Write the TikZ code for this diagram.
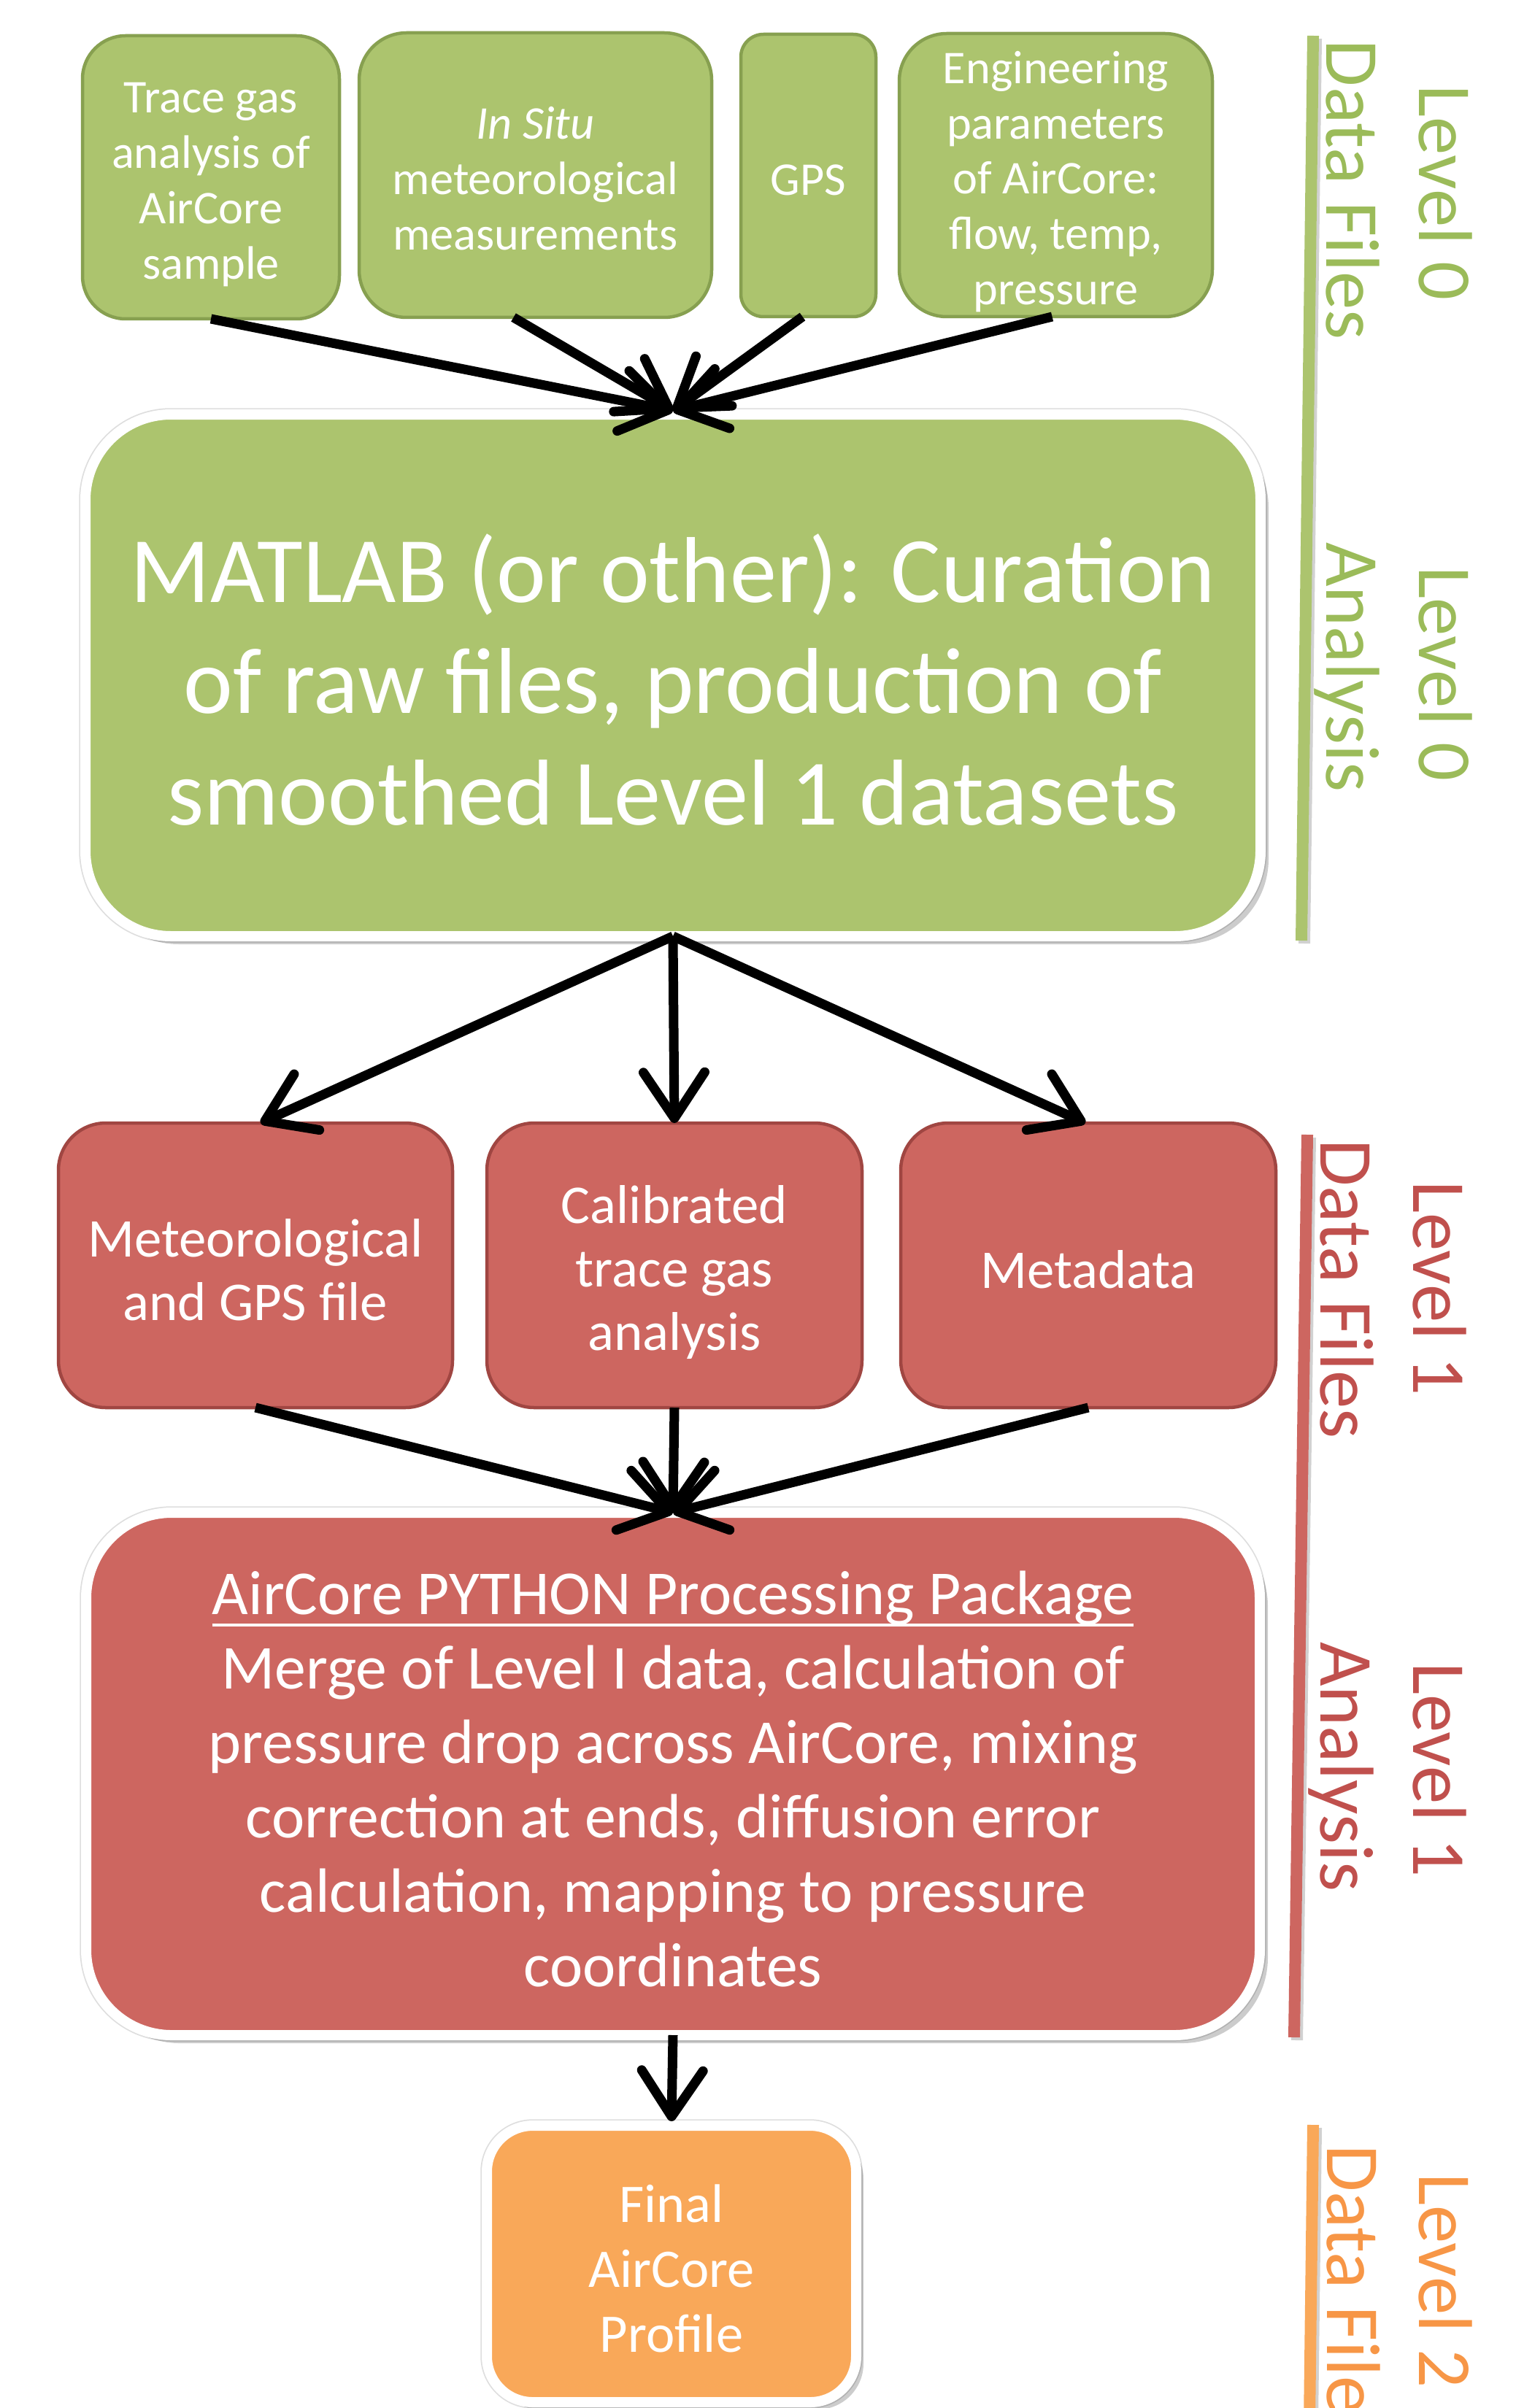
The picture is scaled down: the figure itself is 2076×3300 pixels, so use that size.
\documentclass[tikz,border=0pt]{standalone}
\usepackage{fontspec}
\setmainfont{Carlito}
\usetikzlibrary{arrows.meta,calc,shadows}

% level colours
\definecolor{lvgreen}{RGB}{172,196,110}
\definecolor{lvgreenline}{RGB}{135,160,80}
\definecolor{lvgreentext}{RGB}{155,187,89}
\definecolor{lvred}{RGB}{205,102,96}
\definecolor{lvredline}{RGB}{160,70,66}
\definecolor{lvredtext}{RGB}{192,80,77}
\definecolor{lvorange}{RGB}{249,168,89}
\definecolor{lvorangetext}{RGB}{247,150,70}

% underline with a thicker rule than \underline gives
\newcommand\ulbar[1]{\setbox0=\hbox{#1}\rlap{\rule[-4.6pt]{\wd0}{1.1pt}}\box0}

\tikzset{
  basebox/.style={inner sep=0pt, outer sep=0pt},
  l0box/.style={basebox, fill=lvgreen, draw=lvgreenline, line width=0.45mm,
    rounded corners=6.5mm},
  l1box/.style={basebox, fill=lvred, draw=lvredline, line width=0.45mm,
    rounded corners=6.5mm},
  bigbox/.style={basebox, draw=white, line width=1.4mm, rounded corners=11.7mm,
    preaction={draw=black!13, line width=1.75mm},
    drop shadow={shadow xshift=1.1mm, shadow yshift=-1.1mm, fill=black, opacity=0.2}},
  l2box/.style={basebox, fill=lvorange, draw=white, line width=1.4mm,
    rounded corners=6.3mm,
    preaction={draw=black!13, line width=1.75mm},
    drop shadow={shadow xshift=1.0mm, shadow yshift=-1.0mm, fill=black, opacity=0.2}},
  boxtext/.style={inner sep=0pt, outer sep=0pt, text=white, align=center},
  txt0/.style={boxtext, font=\fontsize{18.3pt}{21.6pt}\selectfont},
  txt1/.style={boxtext, font=\fontsize{21.3pt}{24.75pt}\selectfont},
  txt2/.style={boxtext, font=\fontsize{21.2pt}{25.3pt}\selectfont},
  flow/.style={line width=1.3mm, draw=black,
    -{Straight Barb[length=6.3mm, width=8.4mm, round]}},
  sidelab/.style={rotate=-90, anchor=base west, inner sep=0pt, outer sep=0pt,
    font=\fontsize{29.8pt}{35pt}\selectfont},
  levelbar/.style={line width=1.6mm},
  barshadow/.style={line width=1.6mm, draw=black, opacity=0.18}
}

\begin{document}
\begin{tikzpicture}[x=0.1mm, y=-0.1mm]
\useasboundingbox (0,0) rectangle (2076,3300);
\clip (0,0) rectangle (2076,3300);

% ---- Level 0 data files ----
\node[l0box, minimum width=35.2mm, minimum height=38.8mm, rounded corners=5.9mm]
  (trace) at (289,243) {};
\node[txt0] (tracetxt) at ($(trace.center)+(0,10)$) {Trace gas\\analysis of\\AirCore\\sample};
\node[l0box, minimum width=48.3mm, minimum height=39mm]
  (insitu) at (733.5,240) {};
\node[txt0] (insitutxt) at ($(insitu.center)+(0,5)$) {\textit{In Situ}\\meteorological\\measurements};
\node[l0box, minimum width=18.5mm, minimum height=38.7mm, rounded corners=3.1mm]
  (gps) at (1107.5,240.5) {};
\node[txt0] (gpstxt) at ($(gps.center)+(0,6)$) {GPS};
\node[l0box, minimum width=42.9mm, minimum height=38.8mm]
  (eng) at (1446.5,240) {};
\node[txt0] (engtxt) at ($(eng.center)+(0,9)$) {Engineering\\parameters\\of AirCore:\\flow, temp,\\pressure};

% ---- Level 0 analysis ----
\node[bigbox, fill=lvgreen, minimum width=161mm, minimum height=71.5mm]
  (matlab) at (922,925.5) {};
\node[boxtext, font=\fontsize{36.5pt}{43.5pt}\selectfont] (matlabtxt)
  at ($(matlab.center)+(0,6)$) {MATLAB (or other): Curation\\of raw files, production of\\smoothed Level 1 datasets};

% ---- Level 1 data files ----
\node[l1box, minimum width=54mm, minimum height=39mm] (met) at (350,1734) {};
\node[txt1] (mettxt) at ($(met.center)+(0,6)$) {Meteorological\\and GPS file};
\node[l1box, minimum width=51.4mm, minimum height=39mm] (cal) at (924,1734) {};
\node[txt1] (caltxt) at ($(cal.center)+(0,10)$) {Calibrated\\trace gas\\analysis};
\node[l1box, minimum width=51.4mm, minimum height=39mm] (meta) at (1491,1734) {};
\node[txt1] (metatxt) at ($(meta.center)+(0,6)$) {Metadata};

% ---- Level 1 analysis ----
\node[bigbox, fill=lvred, minimum width=160.8mm, minimum height=71.6mm]
  (python) at (922,2431) {};
\node[boxtext, font=\fontsize{24.4pt}{29pt}\selectfont] (pythontxt)
  at ($(python.center)+(0,7)$) {\ulbar{AirCore PYTHON Processing Package}\\Merge of Level I data, calculation of\\pressure drop across AirCore, mixing\\correction at ends, diffusion error\\calculation, mapping to pressure\\coordinates};

% ---- Level 2 data file ----
\node[l2box, minimum width=50.6mm, minimum height=37.9mm] (final) at (920,3102.5) {};
\node[txt2] (finaltxt) at ($(final.center)+(0,6)$) {Final\\AirCore\\Profile};

% ---- connectors ----
\coordinate (intop) at ($(matlab.north)+(0,-5)$);
\draw[flow] (trace.south) -- (intop);
\draw[flow] ($(insitu.south)+(-30,0)$) -- (intop);
\draw[flow] ($(gps.south)+(-8,0)$) -- (intop);
\draw[flow] ($(eng.south)+(-5,0)$) -- (intop);

\draw[flow] (matlab.south) -- ($(met.north)+(7,0)$);
\draw[flow] (matlab.south) -- (cal.north);
\draw[flow] (matlab.south) -- ($(meta.north)+(-4,0)$);

\draw[flow] (met.south) -- (python.north);
\draw[flow] (cal.south) -- (python.north);
\draw[flow] (meta.south) -- (python.north);

\draw[flow] (python.south) -- ($(final.north)+(0,-6)$);

% ---- level bars ----
\draw[barshadow] (1803,53) -- (1787,1293);
\draw[levelbar, lvgreen] (1799,49) -- (1783,1289);
\draw[barshadow] (1795,1559) -- (1777,2796);
\draw[levelbar, lvred] (1791,1555) -- (1773,2792);
\draw[barshadow] (1803,2916) -- (1798,3320);
\draw[levelbar, lvorange] (1799,2912) -- (1794,3320);

% ---- level labels ----
\node[sidelab, text=lvgreentext] (df0) at (1817,55) {Data Files};
\node[sidelab, text=lvgreentext] (lv0a) at (1944,117) {Level 0};
\node[sidelab, text=lvgreentext] (an0) at (1817,743) {Analysis};
\node[sidelab, text=lvgreentext] (lv0b) at (1944,776) {Level 0};

\node[sidelab, text=lvredtext] (df1) at (1809,1561) {Data Files};
\node[sidelab, text=lvredtext] (lv1a) at (1936,1618) {Level 1};
\node[sidelab, text=lvredtext] (an1) at (1809,2250) {Analysis};
\node[sidelab, text=lvredtext] (lv1b) at (1936,2278) {Level 1};

\node[sidelab, text=lvorangetext] (df2) at (1818,2939) {Data Files};
\node[sidelab, text=lvorangetext] (lv2) at (1944,2978) {Level 2};
\end{tikzpicture}
\end{document}
